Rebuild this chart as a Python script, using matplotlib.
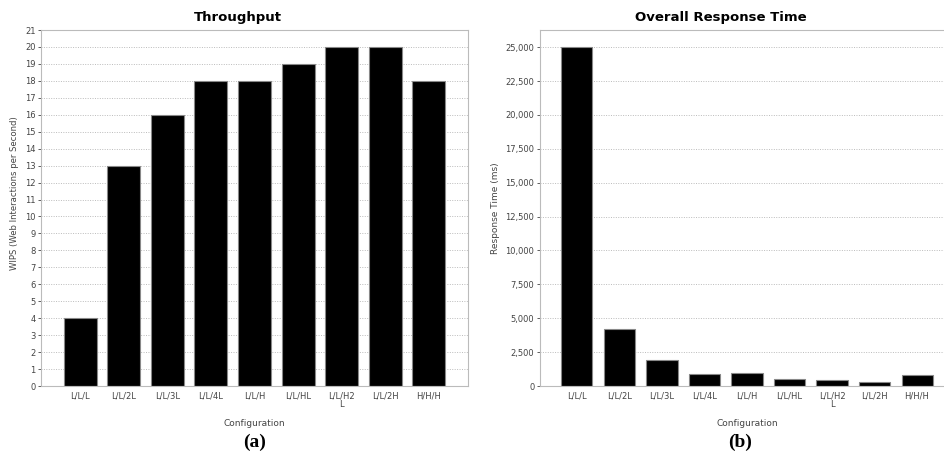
import matplotlib
matplotlib.use("Agg")
import matplotlib.pyplot as plt
from matplotlib.ticker import FuncFormatter, MultipleLocator

configs = ["L/L/L", "L/L/2L", "L/L/3L", "L/L/4L", "L/L/H", "L/L/HL", "L/L/H2\nL", "L/L/2H", "H/H/H"]
throughput = [4, 13, 16, 18, 18, 19, 20, 20, 18]
response_ms = [25000, 4200, 1950, 920, 930, 500, 430, 300, 840]

fig = plt.figure(figsize=(9.44, 4.57), dpi=100)

W, H = 944, 457

def add_ax(l, t, r, b):
    return fig.add_axes([l / W, 1 - b / H, (r - l) / W, (b - t) / H])

tick_col = "#444444"
spine_col = "#bbbbbb"

def style(ax):
    for s in ax.spines.values():
        s.set_color(spine_col)
        s.set_linewidth(0.8)
    ax.tick_params(axis="x", length=0, labelsize=6, colors=tick_col, pad=4)
    ax.tick_params(axis="y", length=2, labelsize=6, colors=tick_col, pad=2, width=0.6)
    ax.yaxis.grid(True, linestyle=(0, (1, 1.5)), color="#bbbbbb", linewidth=0.7)
    ax.set_axisbelow(True)

x = list(range(len(configs)))

ax1 = add_ax(41, 30, 468, 386)
ax1.bar(x, throughput, width=0.76, color="black", edgecolor="#888888", linewidth=0.8)
ax1.set_xlim(-0.9, 8.9)
ax1.set_ylim(0, 21)
ax1.yaxis.set_major_locator(MultipleLocator(1))
ax1.set_xticks(x)
ax1.set_xticklabels(configs, linespacing=0.9)
style(ax1)
ax1.set_xlabel("Configuration", fontsize=6.5, color=tick_col, labelpad=7)
ax1.set_ylabel("WIPS (Web Interactions per Second)", fontsize=6.1, color=tick_col)
ax1.yaxis.set_label_coords(-22 / 427, 0.542)

ax2 = add_ax(540, 30, 954, 386)
ax2.bar(x, response_ms, width=0.73, color="black", edgecolor="#888888", linewidth=0.8)
ax2.set_xlim(-0.87, 8.87)
ax2.set_ylim(0, 26270)
ax2.yaxis.set_major_locator(MultipleLocator(2500))
ax2.yaxis.set_major_formatter(FuncFormatter(lambda v, p: f"{int(v):,}"))
ax2.set_xticks(x)
ax2.set_xticklabels(configs, linespacing=0.9)
style(ax2)
ax2.set_xlabel("Configuration", fontsize=6.5, color=tick_col, labelpad=7)
ax2.set_ylabel("Response Time (ms)", fontsize=6.5, color=tick_col, labelpad=4)

fig.text(238 / W, 1 - 17 / H, "Throughput", ha="center", va="center", fontsize=9.5, fontweight="bold")
fig.text(721 / W, 1 - 17 / H, "Overall Response Time", ha="center", va="center", fontsize=9.5, fontweight="bold")

fig.text(255 / W, 1 - 442 / H, "(a)", ha="center", va="center", fontsize=14, fontweight="bold", family="Liberation Serif")
fig.text(740 / W, 1 - 442 / H, "(b)", ha="center", va="center", fontsize=14, fontweight="bold", family="Liberation Serif")

fig.savefig("out.png", dpi=100)
